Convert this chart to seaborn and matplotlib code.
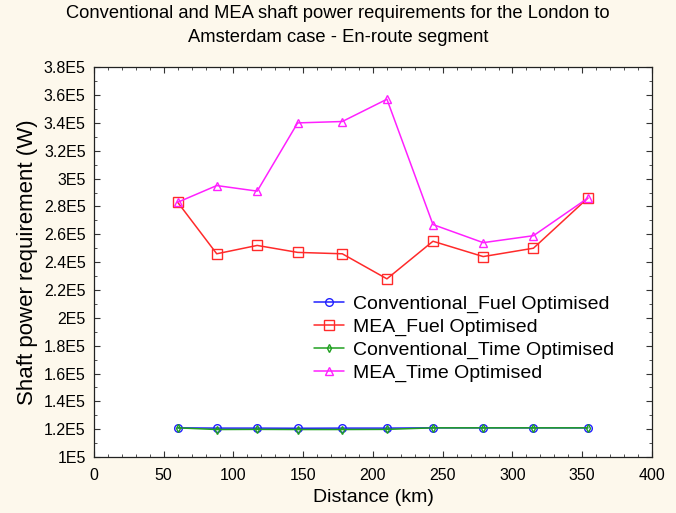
import matplotlib
matplotlib.use("Agg")
import matplotlib.pyplot as plt
from matplotlib.ticker import MultipleLocator, FuncFormatter
import seaborn as sns
import pandas as pd

sns.set_style("white")
plt.rcParams["font.family"] = ["Liberation Sans", "DejaVu Sans"]
plt.rcParams["text.color"] = "black"
plt.rcParams["axes.labelcolor"] = "black"
plt.rcParams["xtick.color"] = "black"
plt.rcParams["ytick.color"] = "black"

# Distance along the en-route segment (km)
distance_km = [60, 88, 117, 146, 178, 210, 243, 279, 315, 354]

# Shaft power requirement (W)
conv_fuel = [121000, 120800, 120800, 120700, 120800, 120800, 121000, 121000, 121000, 121000]
mea_fuel = [283000, 246000, 252000, 247000, 246000, 228000, 255000, 244000, 250000, 286000]
conv_time = [121000, 119800, 119900, 119800, 119800, 119900, 121000, 121000, 121000, 121000]
mea_time = [283000, 295000, 291000, 340000, 341000, 357000, 267000, 254000, 259000, 286000]

series_names = ["Conventional_Fuel Optimised", "MEA_Fuel Optimised",
                "Conventional_Time Optimised", "MEA_Time Optimised"]
series_values = [conv_fuel, mea_fuel, conv_time, mea_time]
colors = ["#2020ff", "#ff2a2a", "#20a020", "#ff20ff"]
markers = ["o", "s", "d", "^"]
marker_sizes = [5.5, 6.5, 4, 5.5]

bg = "#fdf8ec"
fig = plt.figure(figsize=(6.76, 5.13), dpi=100, facecolor=bg)
ax = fig.add_axes([0.139, 0.109, 0.8255, 0.760])
ax.set_facecolor("white")

for name, vals, c, m, ms in zip(series_names, series_values, colors, markers, marker_sizes):
    df = pd.DataFrame({"Distance": distance_km, "Power": vals})
    sns.lineplot(data=df, x="Distance", y="Power", ax=ax, color=c, marker=m,
                 markersize=ms, markerfacecolor="none", markeredgecolor=c,
                 markeredgewidth=1.0, linewidth=1.1, label=name, zorder=3)

ax.set_xlim(0, 400)
ax.set_ylim(100000, 380000)
ax.xaxis.set_major_locator(MultipleLocator(50))
ax.xaxis.set_minor_locator(MultipleLocator(10))
ax.yaxis.set_major_locator(MultipleLocator(20000))
ax.yaxis.set_minor_locator(MultipleLocator(10000))
ax.yaxis.set_major_formatter(FuncFormatter(lambda v, p: f"{v/1e5:g}E5"))

ax.tick_params(which="both", direction="in", top=True, right=True,
               bottom=True, left=True, color="#333333")
ax.tick_params(which="major", length=4, width=0.8, labelsize=11.5)
ax.tick_params(axis="x", which="major", pad=8)
ax.tick_params(axis="y", which="major", pad=6)
ax.tick_params(which="minor", length=2, width=0.6)
for s in ax.spines.values():
    s.set_color("#222222")
    s.set_linewidth(0.9)

ax.set_xlabel("Distance (km)", fontsize=14, labelpad=4)
ax.set_ylabel("Shaft power requirement (W)", fontsize=16, labelpad=4)
fig.suptitle("Conventional and MEA shaft power requirements for the London to\n"
             "Amsterdam case - En-route segment", fontsize=13.2, y=0.99,
             linespacing=1.55)

ax.legend(loc="upper left", bbox_to_anchor=(0.38, 0.435), frameon=False,
          fontsize=14, handlelength=1.55, labelspacing=0.27, handletextpad=0.48,
          borderaxespad=0)

fig.savefig("out.png", dpi=100, facecolor=bg)
